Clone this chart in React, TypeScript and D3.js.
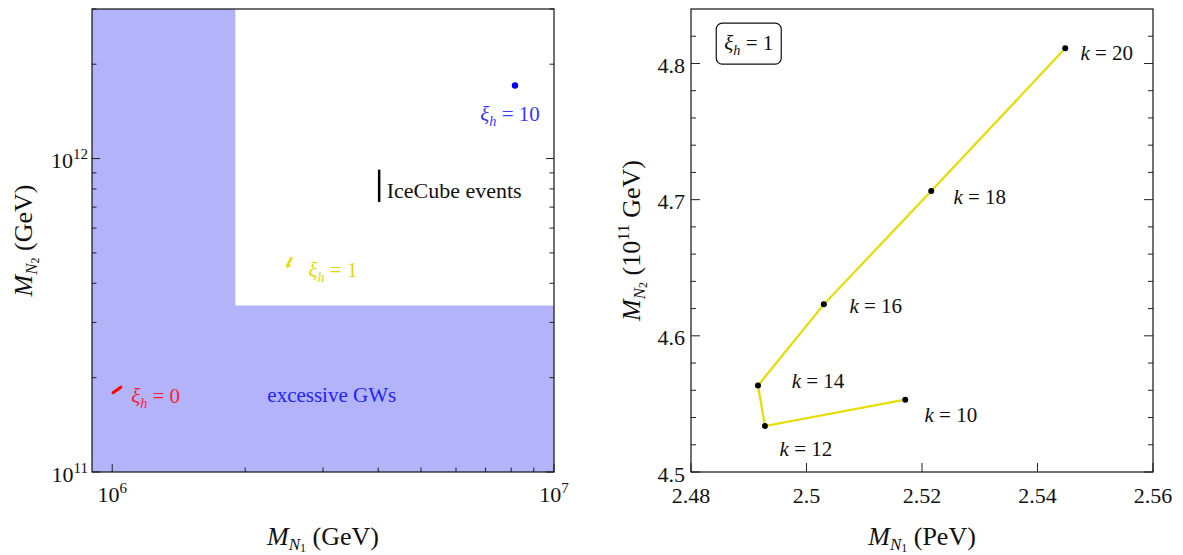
import React from 'react';
import * as d3 from 'd3';

const W = 1183;
const H = 555;
const FONT = 'Liberation Serif, DejaVu Serif, Times New Roman, serif';

// ---------- Left panel data (GeV) ----------
const gwBoundaryX = 1.9e6;
const gwBoundaryY = 3.4e11;
const xi0CurveX = [1.004e6, 1.046e6];
const xi0CurveY = [1.79e11, 1.865e11];
const xi10PointX = 8.16e6;
const xi10PointY = 1.711e12;
const iceCubeX = 4.02e6;
const iceCubeY = [7.27e11, 9.22e11];
const leftXMajor = [1e6, 1e7];
const leftXMajorExp = ['6', '7'];
const leftXMinor = [2e6, 3e6, 4e6, 5e6, 6e6, 7e6, 8e6, 9e6];
const leftYMajor = [1e11, 1e12];
const leftYMajorExp = ['11', '12'];
const leftYMinor = [2e11, 3e11, 4e11, 5e11, 6e11, 7e11, 8e11, 9e11, 2e12, 3e12];

// ---------- Right panel data (xi_h = 1) ----------
const kValues = [10, 12, 14, 16, 18, 20];
const mN1PeV = [2.5171, 2.4928, 2.4916, 2.503, 2.5216, 2.5448];
const mN2e11 = [4.5531, 4.5338, 4.5635, 4.6231, 4.7064, 4.8111];
const kLabelX = [2.525, 2.4999, 2.502, 2.512, 2.53, 2.552];
const kLabelY = [4.5418, 4.5169, 4.5668, 4.6219, 4.7019, 4.8076];
const rightXTicks = [2.48, 2.5, 2.52, 2.54, 2.56];
const rightXTickLabels = ['2.48', '2.5', '2.52', '2.54', '2.56'];
const rightYTicks = [4.5, 4.6, 4.7, 4.8];
const rightYTickLabels = ['4.5', '4.6', '4.7', '4.8'];
const rightYMinor = [4.52, 4.54, 4.56, 4.58, 4.62, 4.64, 4.66, 4.68, 4.72, 4.74, 4.76, 4.78, 4.82];
const boxLabelX = 2.49;
const boxLabelY = 4.8146;

// label positions (data coords, left panel)
const xi0Label = [1.254e6, 1.735e11];
const xi1Label = [3.16e6, 4.38e11];
const xi10Label = [7.95e6, 1.377e12];
const gwLabel = [3.14e6, 1.761e11];
const iceLabel = [4.18e6, 7.88e11];

const LAV = '#b3b3fa';
const YEL = '#e6dd00';

const L = { x0: 92, x1: 554, y0: 9, y1: 472 };
const R = { x0: 691, x1: 1153, y0: 9, y1: 472 };

const xL = d3.scaleLog().domain([9e5, 1e7]).range([L.x0, L.x1]);
const yL = d3.scaleLog().domain([1e11, 3e12]).range([L.y1, L.y0]);
const xR = d3.scaleLinear().domain([2.48, 2.56]).range([R.x0, R.x1]);
const yR = d3.scaleLinear().domain([4.5, 4.84]).range([R.y1, R.y0]);

function Xi({ x, y, rest, color, size = 21 }: { x: number; y: number; rest: string; color: string; size?: number }) {
  return (
    <text x={x} y={y} fill={color} fontSize={size} textAnchor="middle" fontFamily={FONT}>
      <tspan fontStyle="italic">ξ</tspan>
      <tspan fontStyle="italic" fontSize={size * 0.68} dy={5}>h</tspan>
      <tspan dy={-5}>{'  =  ' + rest}</tspan>
    </text>
  );
}

function AxisTitle({ x, y, sub, unit, rotate }: { x: number; y: number; sub: string; unit: React.ReactNode; rotate?: boolean }) {
  return (
    <text
      transform={`translate(${x},${y})${rotate ? ' rotate(-90)' : ''}`}
      textAnchor="middle"
      fontFamily={FONT}
      fontSize={26}
      fill="#111"
    >
      <tspan fontStyle="italic">M</tspan>
      <tspan fontStyle="italic" fontSize={17} dy={5}>N</tspan>
      <tspan fontSize={12} dy={2}>{sub}</tspan>
      <tspan dy={-7}>{'  '}</tspan>
      {unit}
    </text>
  );
}

export default function App() {
  const xiLine = d3.line<number>().x((i) => xR(mN1PeV[i])).y((i) => yR(mN2e11[i]));
  const idx = kValues.map((_, i) => i);
  const xiLineLeft = d3.line<number>().x((i) => xL(mN1PeV[i] * 1e6)).y((i) => yL(mN2e11[i] * 1e11));
  const redLine = d3.line<number>().x((i) => xL(xi0CurveX[i])).y((i) => yL(xi0CurveY[i]));

  const bx = xL(gwBoundaryX);
  const by = yL(gwBoundaryY);
  const gwPath = `M${L.x0},${L.y0}H${bx}V${by}H${L.x1}V${L.y1}H${L.x0}Z`;

  const tickStroke = '#222';

  return (
    <svg width={W} height={H} style={{ position: 'absolute', left: 0, top: 0, background: '#fff' }}>
      {/* ================= LEFT PANEL ================= */}
      <path d={gwPath} fill={LAV} />
      {leftXMajor.map((v) => (
        <line key={'lxM' + v} x1={xL(v)} x2={xL(v)} y1={L.y1} y2={L.y1 - 8} stroke={tickStroke} strokeWidth={1} />
      ))}
      {leftXMinor.map((v) => (
        <line key={'lxm' + v} x1={xL(v)} x2={xL(v)} y1={L.y1} y2={L.y1 - 4.5} stroke={tickStroke} strokeWidth={1} />
      ))}
      {leftYMajor.map((v) => (
        <g key={'lyM' + v}>
          <line x1={L.x0} x2={L.x0 + 8} y1={yL(v)} y2={yL(v)} stroke={tickStroke} strokeWidth={1} />
          <line x1={L.x1} x2={L.x1 - 8} y1={yL(v)} y2={yL(v)} stroke={tickStroke} strokeWidth={1} />
        </g>
      ))}
      {leftYMinor.map((v) => (
        <g key={'lym' + v}>
          <line x1={L.x0} x2={L.x0 + 4.5} y1={yL(v)} y2={yL(v)} stroke={tickStroke} strokeWidth={1} />
          <line x1={L.x1} x2={L.x1 - 4.5} y1={yL(v)} y2={yL(v)} stroke={tickStroke} strokeWidth={1} />
        </g>
      ))}
      <rect x={L.x0} y={L.y0} width={L.x1 - L.x0} height={L.y1 - L.y0} fill="none" stroke="#111" strokeWidth={1.2} />
      {leftXMajor.map((v, i) => (
        <text key={'lxl' + v} x={xL(v)} y={L.y1 + 30} textAnchor="middle" fontFamily={FONT} fontSize={22} fill="#111">
          10<tspan fontSize={15} dy={-9}>{leftXMajorExp[i]}</tspan>
        </text>
      ))}
      {leftYMajor.map((v, i) => (
        <text key={'lyl' + v} x={L.x0 - 4} y={yL(v) + 9.5} textAnchor="end" fontFamily={FONT} fontSize={22} fill="#111">
          10<tspan fontSize={15} dy={-9}>{leftYMajorExp[i]}</tspan>
        </text>
      ))}
      <path d={redLine([0, 1]) || ''} stroke="#ff0000" strokeWidth={3} fill="none" strokeLinecap="round" />
      <path d={xiLineLeft(idx) || ''} stroke={YEL} strokeWidth={2.5} fill="none" strokeLinecap="round" />
      <circle cx={xL(xi10PointX)} cy={yL(xi10PointY)} r={3.2} fill="#0000ff" />
      <line x1={xL(iceCubeX)} x2={xL(iceCubeX)} y1={yL(iceCubeY[0])} y2={yL(iceCubeY[1])} stroke="#000" strokeWidth={2.5} />
      <text x={xL(iceLabel[0])} y={yL(iceLabel[1]) + 7} fontFamily={FONT} fontSize={22} fill="#111">
        IceCube events
      </text>
      <text x={xL(gwLabel[0])} y={yL(gwLabel[1]) + 7} textAnchor="middle" fontFamily={FONT} fontSize={21} fill="#2222ff">
        excessive GWs
      </text>
      <Xi x={xL(xi0Label[0])} y={yL(xi0Label[1]) + 6} rest="0" color="#ff1e2e" />
      <Xi x={xL(xi1Label[0])} y={yL(xi1Label[1]) + 6} rest="1" color="#e2d800" />
      <Xi x={xL(xi10Label[0])} y={yL(xi10Label[1]) + 6} rest="10" color="#3838ff" />
      <AxisTitle x={(L.x0 + L.x1) / 2} y={545} sub="1" unit={<tspan>(GeV)</tspan>} />
      <AxisTitle x={32} y={(L.y0 + L.y1) / 2} sub="2" unit={<tspan>(GeV)</tspan>} rotate />

      {/* ================= RIGHT PANEL ================= */}
      {rightXTicks.map((v) => (
        <line key={'rx' + v} x1={xR(v)} x2={xR(v)} y1={R.y1} y2={R.y1 - 9} stroke={tickStroke} strokeWidth={1} />
      ))}
      {rightYTicks.map((v) => (
        <g key={'ry' + v}>
          <line x1={R.x0} x2={R.x0 + 9} y1={yR(v)} y2={yR(v)} stroke={tickStroke} strokeWidth={1} />
          <line x1={R.x1} x2={R.x1 - 9} y1={yR(v)} y2={yR(v)} stroke={tickStroke} strokeWidth={1} />
        </g>
      ))}
      {rightYMinor.map((v) => (
        <g key={'rym' + v}>
          <line x1={R.x0} x2={R.x0 + 5} y1={yR(v)} y2={yR(v)} stroke={tickStroke} strokeWidth={1} />
          <line x1={R.x1} x2={R.x1 - 5} y1={yR(v)} y2={yR(v)} stroke={tickStroke} strokeWidth={1} />
        </g>
      ))}
      <rect x={R.x0} y={R.y0} width={R.x1 - R.x0} height={R.y1 - R.y0} fill="none" stroke="#111" strokeWidth={1.2} />
      {rightXTicks.map((v, i) => (
        <text key={'rxl' + v} x={xR(v)} y={R.y1 + 31} textAnchor="middle" fontFamily={FONT} fontSize={22} fill="#111">
          {rightXTickLabels[i]}
        </text>
      ))}
      {rightYTicks.map((v, i) => (
        <text key={'ryl' + v} x={R.x0 - 6} y={yR(v) + 9.5} textAnchor="end" fontFamily={FONT} fontSize={22} fill="#111">
          {rightYTickLabels[i]}
        </text>
      ))}
      <path d={xiLine(idx) || ''} stroke={YEL} strokeWidth={2.2} fill="none" />
      {idx.map((i) => (
        <circle key={'pt' + i} cx={xR(mN1PeV[i])} cy={yR(mN2e11[i])} r={3} fill="#000" />
      ))}
      {idx.map((i) => (
        <text key={'kl' + i} x={xR(kLabelX[i])} y={yR(kLabelY[i]) + 7} textAnchor="middle" fontFamily={FONT} fontSize={21} fill="#111">
          <tspan fontStyle="italic">k</tspan>
          <tspan>{'  =  ' + kValues[i]}</tspan>
        </text>
      ))}
      <rect x={xR(boxLabelX) - 32.5} y={yR(boxLabelY) - 20.5} width={65} height={41} rx={6} fill="#fff" stroke="#111" strokeWidth={1.2} />
      <Xi x={xR(boxLabelX)} y={yR(boxLabelY) + 6} rest="1" color="#111" />
      <AxisTitle x={(R.x0 + R.x1) / 2} y={545} sub="1" unit={<tspan>(PeV)</tspan>} />
      <AxisTitle
        x={640}
        y={(R.y0 + R.y1) / 2}
        sub="2"
        unit={
          <>
            <tspan>(10</tspan>
            <tspan fontSize={17} dy={-11}>11</tspan>
            <tspan dy={11}>{'  GeV)'}</tspan>
          </>
        }
        rotate
      />
    </svg>
  );
}
